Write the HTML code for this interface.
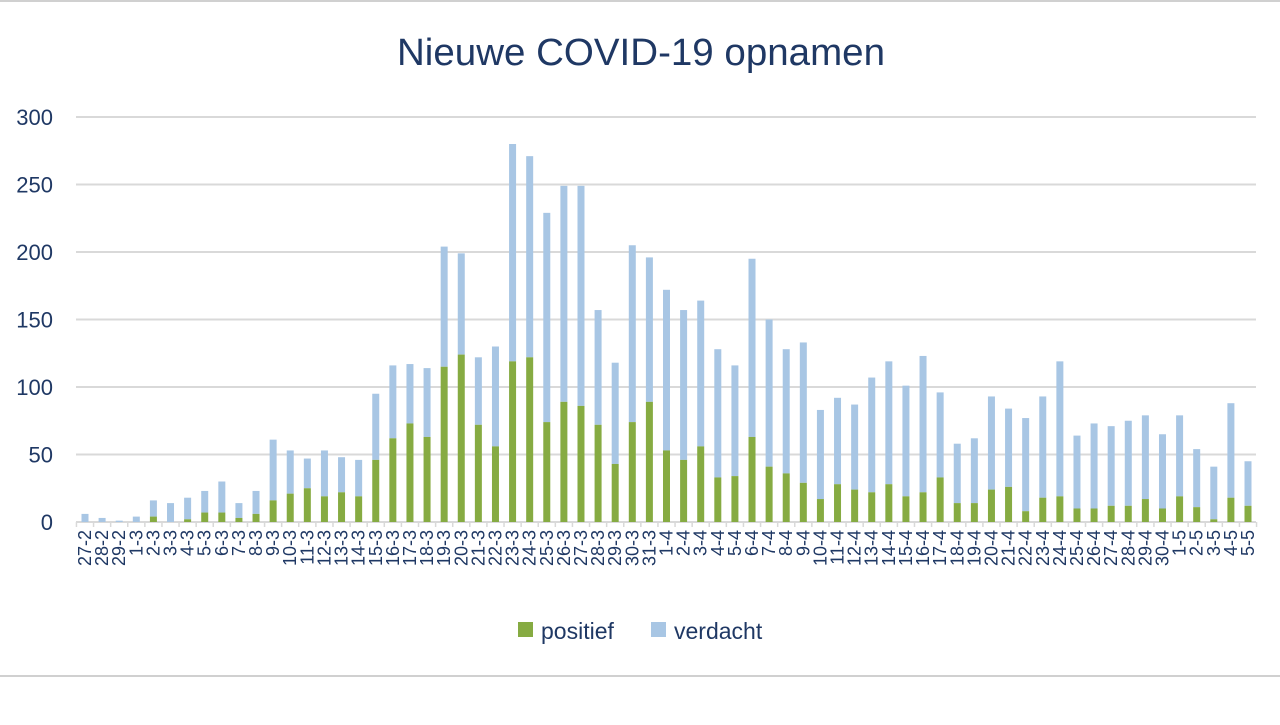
<!DOCTYPE html>
<html><head><meta charset="utf-8"><style>
html,body{margin:0;padding:0;background:#fff;}
svg text{font-family:"Liberation Sans",sans-serif;}
</style></head><body>
<svg id="c" width="1280" height="720" xmlns="http://www.w3.org/2000/svg">
<rect width="1280" height="720" fill="#fff"/>
<line x1="0" y1="1" x2="1280" y2="1" stroke="#d0d0d0" stroke-width="2"/>
<line x1="0" y1="676" x2="1280" y2="676" stroke="#d0d0d0" stroke-width="2"/>
<text x="641" y="65" text-anchor="middle" font-size="38" fill="#1f3864" textLength="488" lengthAdjust="spacingAndGlyphs">Nieuwe COVID-19 opnamen</text>
<g id="grid"></g>
<g id="bars"></g>
<g id="lbl"></g>
<rect x="518" y="622" width="15" height="15" fill="#86ab42"/>
<text x="541" y="639" font-size="23" fill="#1f3864">positief</text>
<rect x="651" y="622" width="15" height="15" fill="#a8c6e4"/>
<text x="674" y="639" font-size="23" fill="#1f3864">verdacht</text>
</svg>
<script>
var d=[[6,0],[3,0],[1,0],[4,0],[16,4],[14,0],[18,2],[23,7],[30,7],[14,3],[23,6],[61,16],[53,21],[47,25],[53,19],[48,22],[46,19],[95,46],[116,62],[117,73],[114,63],[204,115],[199,124],[122,72],[130,56],[280,119],[271,122],[229,74],[249,89],[249,86],[157,72],[118,43],[205,74],[196,89],[172,53],[157,46],[164,56],[128,33],[116,34],[195,63],[150,41],[128,36],[133,29],[83,17],[92,28],[87,24],[107,22],[119,28],[101,19],[123,22],[96,33],[58,14],[62,14],[93,24],[84,26],[77,8],[93,18],[119,19],[64,10],[73,10],[71,12],[75,12],[79,17],[65,10],[79,19],[54,11],[41,2],[88,18],[45,12]];
var lab=["27-2","28-2","29-2"];for(var i=1;i<=31;i++)lab.push(i+"-3");for(i=1;i<=30;i++)lab.push(i+"-4");for(i=1;i<=5;i++)lab.push(i+"-5");
var ns="http://www.w3.org/2000/svg",y0=522,k=405/300,x0=85,dx=(1248-85)/68;
function el(t,a,p,tx){var e=document.createElementNS(ns,t);for(var q in a)e.setAttribute(q,a[q]);if(tx)e.textContent=tx;document.getElementById(p).appendChild(e);}
for(var v=0;v<=300;v+=50){var y=y0-v*k;if(v>0)el("line",{x1:76,x2:1256,y1:y,y2:y,stroke:"#d9d9d9","stroke-width":2},"grid");el("text",{x:53,y:y+8,"text-anchor":"end","font-size":22,fill:"#1f3864"},"grid",""+v);}
el("line",{x1:76,x2:1256,y1:y0,y2:y0,stroke:"#d9d9d9","stroke-width":2},"grid");
for(i=0;i<=69;i++){var tx=x0-dx/2+i*dx;el("line",{x1:tx,x2:tx,y1:y0,y2:y0+5,stroke:"#d9d9d9","stroke-width":1.5},"grid");}
d.forEach(function(b,i){var cx=x0+i*dx;el("rect",{x:cx-3.5,y:y0-b[0]*k,width:7,height:(b[0]-b[1])*k,fill:"#a8c6e4"},"bars");el("rect",{x:cx-3.5,y:y0-b[1]*k,width:7,height:b[1]*k,fill:"#86ab42"},"bars");
el("text",{x:0,y:0,"font-size":18,fill:"#1f3864","text-anchor":"end",transform:"translate("+(cx+6)+","+(y0+8)+") rotate(-90)"},"lbl",lab[i]);});
</script>
</body></html>
